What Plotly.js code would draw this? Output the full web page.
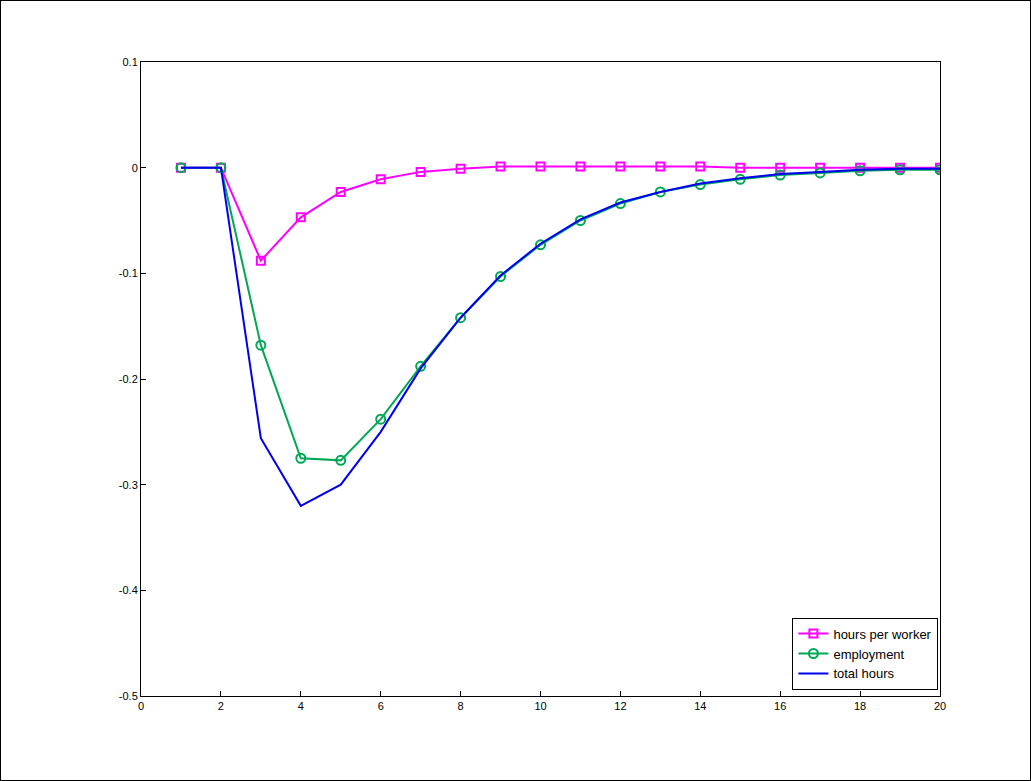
<!DOCTYPE html>
<html>
<head>
<script src="https://cdn.plot.ly/plotly-3.0.1.min.js"></script>
<style>
body { margin: 0; }
#plot { width: 1031px; height: 781px; box-sizing: border-box; border: 1px solid #000; }
</style>
</head>
<body>
<div id="plot"></div>
<script>
const periods = [1,2,3,4,5,6,7,8,9,10,11,12,13,14,15,16,17,18,19,20];
const hoursPerWorker = [0,0,-0.088,-0.047,-0.023,-0.011,-0.004,-0.001,0.001,0.001,0.001,0.001,0.001,0.001,0,0,0,0,0,0];
const employment = [0,0,-0.168,-0.275,-0.277,-0.238,-0.188,-0.142,-0.103,-0.073,-0.050,-0.034,-0.023,-0.016,-0.011,-0.007,-0.005,-0.003,-0.002,-0.002];
const totalHours = [0,0,-0.256,-0.320,-0.300,-0.250,-0.190,-0.142,-0.102,-0.072,-0.049,-0.033,-0.023,-0.015,-0.010,-0.006,-0.004,-0.002,-0.001,-0.001];
const yTickVals = [0.1, 0, -0.1, -0.2, -0.3, -0.4, -0.5];
const yTickText = ["0.1", "0", "-0.1", "-0.2", "-0.3", "-0.4", "-0.5"];

const traces = [
  { x: periods, y: hoursPerWorker, name: "hours per worker", mode: "lines+markers", type: "scatter",
    line: { color: "#ff00ff", width: 2 }, marker: { symbol: "square-open", size: 8, color: "#ff00ff", line: { width: 2 } } },
  { x: periods, y: employment, name: "employment", mode: "lines+markers", type: "scatter",
    line: { color: "#00a854", width: 2 }, marker: { symbol: "circle-open", size: 9, color: "#00a854", line: { width: 2 } } },
  { x: periods, y: totalHours, name: "total hours", mode: "lines", type: "scatter",
    line: { color: "#0000ee", width: 2 } }
];

const layout = {
  width: 1029, height: 779,
  margin: { l: 140, r: 90, t: 61, b: 84 },
  paper_bgcolor: "#fff", plot_bgcolor: "#fff",
  font: { family: "Arial, Liberation Sans, sans-serif", size: 11, color: "#000" },
  xaxis: { range: [0, 20], dtick: 2, showgrid: false, zeroline: false, showline: true, mirror: true,
    linecolor: "#000", linewidth: 1, ticks: "inside", ticklen: 5, tickcolor: "#000" },
  yaxis: { range: [-0.5, 0.1], tickvals: yTickVals, ticktext: yTickText, showgrid: false, zeroline: false, showline: true, mirror: true,
    linecolor: "#000", linewidth: 1, ticks: "inside", ticklen: 5, tickcolor: "#000" },
  legend: { x: 0.998, y: 0.01, xanchor: "right", yanchor: "bottom", bgcolor: "#fff",
    bordercolor: "#000", borderwidth: 1, font: { size: 13 }, tracegroupgap: 0 },
  showlegend: true
};

Plotly.newPlot("plot", traces, layout, { displayModeBar: false });
</script>
</body>
</html>
